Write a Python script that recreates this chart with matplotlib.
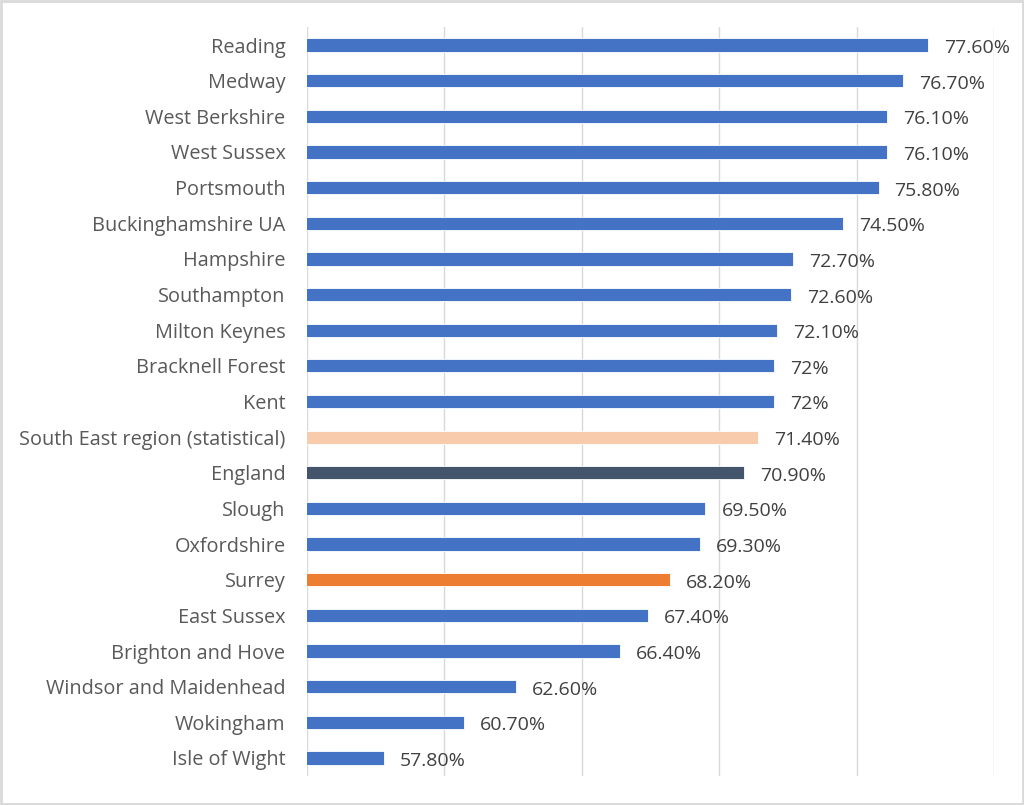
import matplotlib
matplotlib.use("Agg")
import matplotlib.pyplot as plt
from matplotlib.patches import Rectangle

categories = ["Reading", "Medway", "West Berkshire", "West Sussex", "Portsmouth",
              "Buckinghamshire UA", "Hampshire", "Southampton", "Milton Keynes",
              "Bracknell Forest", "Kent", "South East region (statistical)", "England",
              "Slough", "Oxfordshire", "Surrey", "East Sussex", "Brighton and Hove",
              "Windsor and Maidenhead", "Wokingham", "Isle of Wight"]
values = [77.6, 76.7, 76.1, 76.1, 75.8, 74.5, 72.7, 72.6, 72.1, 72.0, 72.0, 71.4, 70.9,
          69.5, 69.3, 68.2, 67.4, 66.4, 62.6, 60.7, 57.8]
value_labels = ["77.60%", "76.70%", "76.10%", "76.10%", "75.80%", "74.50%", "72.70%",
                "72.60%", "72.10%", "72%", "72%", "71.40%", "70.90%", "69.50%", "69.30%",
                "68.20%", "67.40%", "66.40%", "62.60%", "60.70%", "57.80%"]

BLUE = "#4472C4"
special = {"South East region (statistical)": "#F8CBAD", "England": "#44546A", "Surrey": "#ED7D31"}
colors = [special.get(c, BLUE) for c in categories]

plt.rcParams['font.family'] = ['Open Sans', 'DejaVu Sans']

fig = plt.figure(figsize=(10.24, 8.05), dpi=100)
ax = fig.add_axes([0.2998, 0.0363, 0.6709, 0.9299])

y = list(range(len(categories)))
ax.barh(y, values, height=0.37, color=colors, edgecolor="white", linewidth=0.6)
ax.set_xlim(55, 80)
ax.set_ylim(len(categories) - 0.5, -0.5)
ax.set_yticks(y)
ax.set_yticklabels(categories, fontsize=14.3, color="#595959")
ax.tick_params(axis='y', length=0, pad=15.5)
ax.set_xticks([55, 60, 65, 70, 75, 80])
ax.tick_params(axis='x', length=0, labelbottom=False)
ax.grid(axis='x', color="#D9D9D9", linewidth=1)
ax.set_axisbelow(True)
for s in ax.spines.values():
    s.set_visible(False)

for yi, v, lab in zip(y, values, value_labels):
    ax.annotate(lab, (v, yi), xytext=(16, -8), textcoords="offset pixels",
                va="baseline", ha="left", fontsize=14, color="#404040")

fig.patches.append(Rectangle((0.001, 0.001), 0.998, 0.998, transform=fig.transFigure,
                             fill=False, edgecolor="#D9D9D9", linewidth=2))
fig.savefig("out.png", dpi=100)
